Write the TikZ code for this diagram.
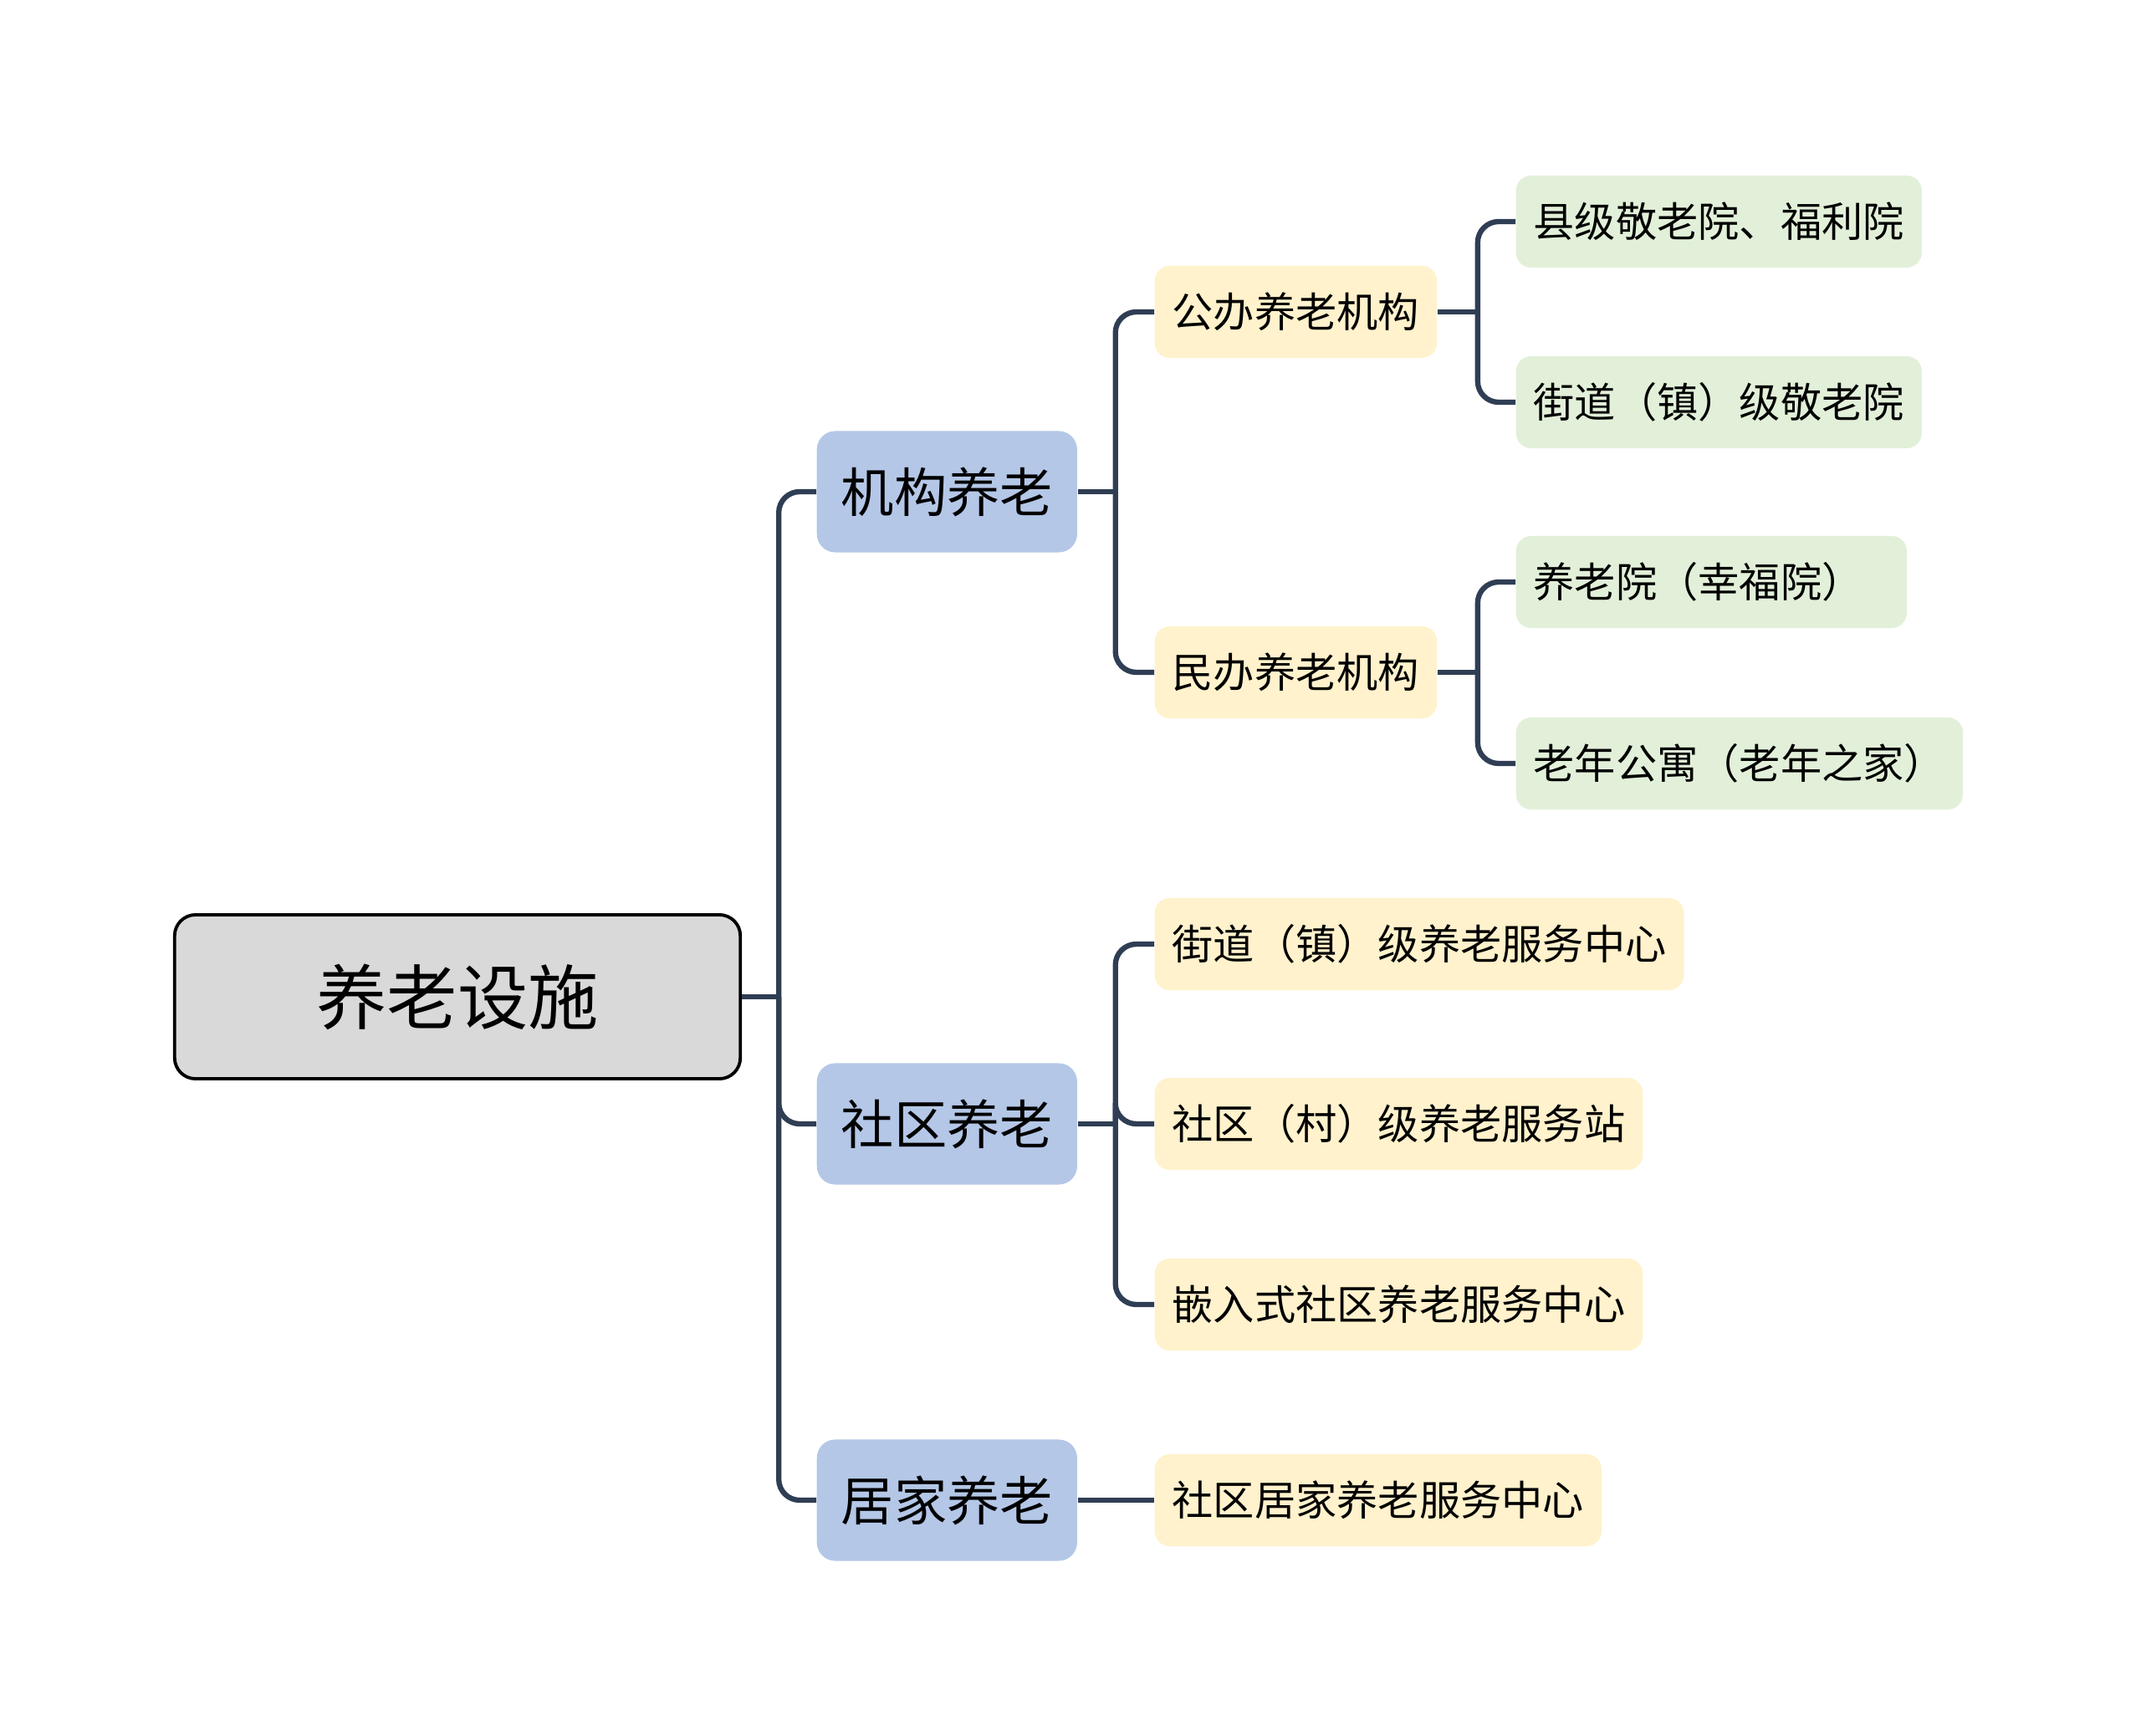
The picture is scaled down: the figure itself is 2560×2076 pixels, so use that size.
\documentclass[tikz,border=0pt]{standalone}
\usepackage{fontspec}
\setmainfont{Noto Sans CJK SC}
\usetikzlibrary{positioning}
\definecolor{linkcol}{RGB}{47,62,84}
\definecolor{rootfill}{RGB}{217,217,217}
\definecolor{topicfill}{RGB}{180,199,231}
\definecolor{subfill}{RGB}{255,242,204}
\definecolor{leaffill}{RGB}{226,240,217}

\begin{document}
\begin{tikzpicture}[
    x=0.01cm, y=-0.01cm,
    rootnode/.style={draw=black, line width=1.1pt, fill=rootfill, rounded corners=0.25cm,
      minimum width=6.76cm, minimum height=1.96cm, font=\fontsize{24}{28}\selectfont},
    topicnode/.style={fill=topicfill, rounded corners=0.22cm, anchor=west,
      minimum height=1.45cm, inner xsep=0.29cm, font=\fontsize{18}{22}\selectfont},
    subnode/.style={fill=subfill, rounded corners=0.18cm, anchor=west,
      minimum height=1.1cm, inner xsep=0.21cm, font=\fontsize{14}{17}\selectfont},
    leafnode/.style={subnode, fill=leaffill},
    link/.style={draw=linkcol, line width=1.8pt, rounded corners=0.25cm},
  ]
  \useasboundingbox (0,0) rectangle (2560,2076);
  % root and first level
  \node[rootnode]  (root) at (547,1192)  {养老设施};
  \node[topicnode] (jg)   at (976,588)   {机构养老};
  \node[topicnode] (sq)   at (976,1344)  {社区养老};
  \node[topicnode] (jj)   at (976,1794)  {居家养老};
  % second level
  \node[subnode]   (gb)   at (1380,373)  {公办养老机构};
  \node[subnode]   (mb)   at (1380,804)  {民办养老机构};
  \node[subnode]   (jdz)  at (1380,1129) {街道（镇）级养老服务中心};
  \node[subnode]   (sqc)  at (1380,1344) {社区（村）级养老服务站};
  \node[subnode]   (qrs)  at (1380,1560) {嵌入式社区养老服务中心};
  \node[subnode]   (sqjj) at (1380,1794) {社区居家养老服务中心};
  % third level
  \node[leafnode]  (xj)   at (1812,265)  {县级敬老院、福利院};
  \node[leafnode]  (jdj)  at (1812,481)  {街道（镇）级敬老院};
  \node[leafnode, text width=4.25cm, align=left] (ylx) at (1812,696) {养老院（幸福院）};
  \node[leafnode]  (lngy) at (1812,913)  {老年公寓（老年之家）};

  % connectors
  \coordinate (s0) at ([xshift=0.44cm]root.east);
  \draw[link] (root.east) -- (s0);
  \foreach \c in {jg,sq,jj}
    \draw[link] (s0) |- (\c.west);
  \coordinate (s1) at ([xshift=0.45cm]jg.east);
  \draw[link] (jg.east) -- (s1);
  \foreach \c in {gb,mb}
    \draw[link] (s1) |- (\c.west);
  \coordinate (s2) at ([xshift=0.45cm]sq.east);
  \draw[link] (sq.east) -- (s2);
  \foreach \c in {jdz,sqc,qrs}
    \draw[link] (s2) |- (\c.west);
  \draw[link] (jj.east) -- (sqjj.west);
  \coordinate (s3) at ([xshift=0.48cm]gb.east);
  \draw[link] (gb.east) -- (s3);
  \foreach \c in {xj,jdj}
    \draw[link] (s3) |- (\c.west);
  \coordinate (s4) at ([xshift=0.48cm]mb.east);
  \draw[link] (mb.east) -- (s4);
  \foreach \c in {ylx,lngy}
    \draw[link] (s4) |- (\c.west);
\end{tikzpicture}
\end{document}
